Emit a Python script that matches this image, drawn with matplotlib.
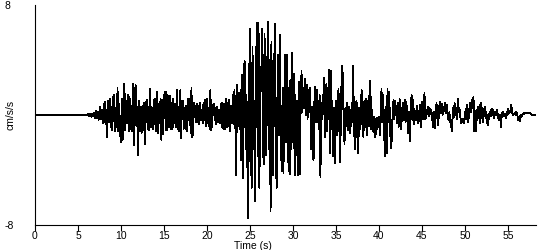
import numpy as np
import matplotlib
matplotlib.use("Agg")
import matplotlib.pyplot as plt

# ---- data ----
onset_time = 6.0        # s, record is flat before this
sample_step = 0.1       # s between listed samples
accel = [
    # 6 s
    0.0, 0.05, -0.05, 0.1, -0.1, 0.08, -0.12, 0.1, -0.1, 0.15,
    # 7
    -0.2, 0.3, -0.25, 0.2, -0.35, 0.3, 0.6, -0.3, 0.4, -0.6,
    # 8
    0.5, 0.97, -0.7, 0.4, -1.6, 1.0, -0.5, 1.2, -0.9, 0.6,
    # 9
    -1.1, 1.33, 1.45, -1.2, 0.5, -0.9, 1.94, -1.2, 0.8, -1.3,
    # 10
    -2.0, 1.2, -1.8, 1.7, 2.3, -1.1, 1.0, -0.6, 1.5, -1.2,
    # 11
    1.3, -1.0, 0.7, -1.2, 2.3, -2.2, 1.0, 2.2, -0.8, 0.6,
    # 12
    -2.9, 1.0, -1.2, 0.6, -1.3, 0.7, -1.1, 0.9, -2.1, 0.8,
    # 13
    1.1, -1.0, 0.6, -1.1, 1.9, -0.9, 0.5, -1.0, 1.1, -0.7,
    # 14
    1.2, -1.2, 1.7, -1.3, 0.8, -0.6, 1.2, -1.8, 1.1, -1.4,
    # 15
    1.3, 1.7, -1.1, 1.7, -1.1, 1.4, -0.9, 1.4, -1.0, 0.9,
    # 16
    -1.0, 1.2, -0.6, 0.8, -0.9, 1.8, -1.0, 0.6, -1.2, 1.8,
    # 17
    -1.7, 1.0, 1.0, -1.0, 0.5, -1.0, 0.7, -1.2, 1.2, -0.4,
    # 18
    1.2, -1.3, 1.94, -1.6, -1.2, 0.9, 0.6, -0.5, 0.8, -0.5,
    # 19
    0.7, -0.7, 0.9, -0.4, 0.4, -0.6, 0.9, -0.4, 1.1, -0.8,
    # 20
    1.2, -0.6, 0.5, -1.0, 1.8, -1.1, -0.7, 0.7, 0.8, -0.4,
    # 21
    0.5, -0.7, 0.6, -0.5, 0.4, -0.6, 0.8, -0.9, 0.9, -1.0,
    # 22
    0.8, -1.0, 1.2, -0.9, 0.9, -0.8, 1.1, -1.2, 0.7, -0.6,
    # 23
    1.5, -0.7, 1.8, -0.5, -4.4, 2.2, -0.8, 1.6, -1.0, 1.8,
    # 24
    -3.3, 2.9, -4.6, 3.6, 3.9, -2.5, 1.5, -3.5, -7.5, 2.0,
    # 25
    6.3, -2.0, -5.3, 4.97, -2.5, 1.0, -6.3, 3.0, 6.7, -3.0,
    # 26
    6.7, -5.3, 1.5, 2.0, 6.3, -2.0, -3.6, 5.9, -1.0, -2.9,
    # 27
    3.0, 6.8, -2.5, 4.0, -7.0, 5.3, -2.0, -4.4, 2.5, 6.6,
    # 28
    -2.0, -5.3, 1.5, 4.4, -1.5, 5.8, -2.0, -4.1, 2.0, -4.2,
    # 29
    1.5, 4.4, -2.0, 4.4, -1.5, -4.1, 2.5, -4.3, 2.0, 4.5,
    # 30
    -2.0, 3.0, -4.4, 1.5, -2.9, 1.0, -4.4, 2.4, -4.3, 0.5,
    # 31
    3.2, 0.2, 2.0, 0.5, 2.6, 0.0, 2.2, -0.3, 1.8, 0.2,
    # 32
    2.0, -2.5, 0.6, -2.7, -3.3, 1.0, 2.05, -0.5, 1.8, 0.3,
    # 33
    -1.0, 1.5, -4.5, 0.85, -0.3, 0.5, 2.7, -1.6, 0.8, 2.3,
    # 34
    -1.2, 1.5, 3.3, -2.8, 3.2, -1.0, 1.0, -3.0, 0.5, -3.5,
    # 35
    1.0, -1.5, 0.5, 1.9, -1.0, -3.4, 1.0, 3.6, 2.9, -0.5,
    # 36
    -2.1, 0.5, -0.8, 0.85, -1.1, 0.6, -1.35, 0.4, -0.8, 0.3,
    # 37
    3.6, -0.5, -2.5, 0.8, 1.0, -1.6, -2.8, 0.5, -1.0, 0.9,
    # 38
    1.8, -1.2, -1.6, 1.0, -0.9, 1.2, -1.5, 1.0, -0.8, 1.5,
    # 39
    2.5, -1.0, 0.4, -1.2, -0.1, -1.6, -0.3, -1.4, -0.2, -0.9,
    # 40
    -0.1, -1.5, -0.3, 1.9, -0.5, 1.5, -1.0, -3.0, 0.6, -2.8,
    # 41
    1.9, -0.5, 1.7, -1.0, -2.4, -1.8, 0.3, 1.1, -0.3, 1.0,
    # 42
    0.3, -0.6, 0.9, -0.85, 1.2, -0.5, -1.0, 0.4, 0.9, -0.4,
    # 43
    1.1, -0.5, 0.95, -0.3, -1.3, 0.2, -1.9, 0.5, 1.45, -0.4,
    # 44
    1.1, -0.7, 0.3, -0.4, 0.7, -0.2, -0.6, 0.3, 0.7, -0.85,
    # 45
    0.95, -0.3, 0.4, 1.6, -0.3, -0.12, 0.3, 0.6, -0.1, 0.5,
    # 46
    0.1, 0.4, -0.3, -0.85, 0.2, -0.97, 0.3, 0.85, -0.2, -0.73,
    # 47
    0.5, 0.97, 0.1, 0.8, 0.0, 0.6, 0.3, 0.85, 0.1, 0.73,
    # 48
    -0.1, -0.36, 0.2, -0.5, -0.8, -1.2, 0.5, -0.2, 0.85, 0.0,
    # 49
    0.5, -0.3, 1.2, 0.2, 0.4, -0.36, -0.6, -0.25, -0.5, -0.6,
    # 50
    0.2, -0.3, 0.73, 0.1, -0.5, 0.3, 0.85, 0.2, 1.09, 0.5,
    # 51
    1.33, -1.2, 0.3, -1.2, 0.1, 0.6, -0.2, 0.73, -0.6, 0.85,
    # 52
    0.2, -0.5, 0.1, 0.6, -0.2, 0.24, -0.6, -0.73, 0.0, 0.24,
    # 53
    -0.1, 0.48, 0.0, 0.36, -0.24, 0.24, 0.0, 0.36, 0.1, -0.24,
    # 54
    -0.36, 0.0, -0.85, 0.1, 0.24, 0.0, -0.1, 0.1, -0.24, 0.1,
    # 55
    0.48, 0.1, 0.3, 0.2, 0.73, 0.2, 0.0, 0.1, 0.12, 0.0,
    # 56
    0.24, 0.0, -0.36, -0.1, -0.48, 0.0, -0.12, 0.0, 0.12, 0.1,
    # 57
    0.17, 0.15, 0.18, 0.17, 0.16, 0.17, 0.1, 0.05, 0.0, 0.0,
    # 58
    0.0, 0.0, 0.0,
]
x_ticks = [0, 5, 10, 15, 20, 25, 30, 35, 40, 45, 50, 55]
y_ticks = [-8, 8]
x_label = "Time (s)"
y_label = "cm/s/s"

# ---- build series ----
t = np.concatenate([[0.0], onset_time + sample_step * np.arange(len(accel))])
a = np.concatenate([[0.0], np.array(accel)])

plt.rcParams['font.family'] = ['Liberation Sans', 'DejaVu Sans']
fig = plt.figure(figsize=(5.5, 2.5), dpi=100)
ax = fig.add_axes([0.0636, 0.1, 0.975 - 0.0636, 0.88])
ax.plot(t, a, color="black", linewidth=0.6, antialiased=False)

ax.set_xlim(0, 58.3)
ax.set_ylim(-8, 8)
ax.spines['top'].set_visible(False)
ax.spines['right'].set_visible(False)
ax.spines['left'].set_linewidth(0.8)
ax.spines['bottom'].set_linewidth(0.8)

ax.set_xticks(x_ticks)
ax.set_xticklabels([str(v) for v in x_ticks], fontsize=7.5)
ax.tick_params(axis='x', direction='out', length=4, width=0.8, pad=0.5)
ax.set_yticks(y_ticks)
ax.set_yticklabels([str(v) for v in y_ticks], fontsize=7.5)
ax.tick_params(axis='y', length=0, pad=22)
for lab in ax.get_yticklabels():
    lab.set_horizontalalignment('left')

ax.set_xlabel(x_label, fontsize=7.5)
ax.xaxis.set_label_coords(0.435, -0.071)
ax.xaxis.label.set_verticalalignment('top')
ax.set_ylabel(y_label, fontsize=7.5)
ax.yaxis.set_label_coords(-0.038, 0.5)

fig.savefig("out.png", dpi=100)
